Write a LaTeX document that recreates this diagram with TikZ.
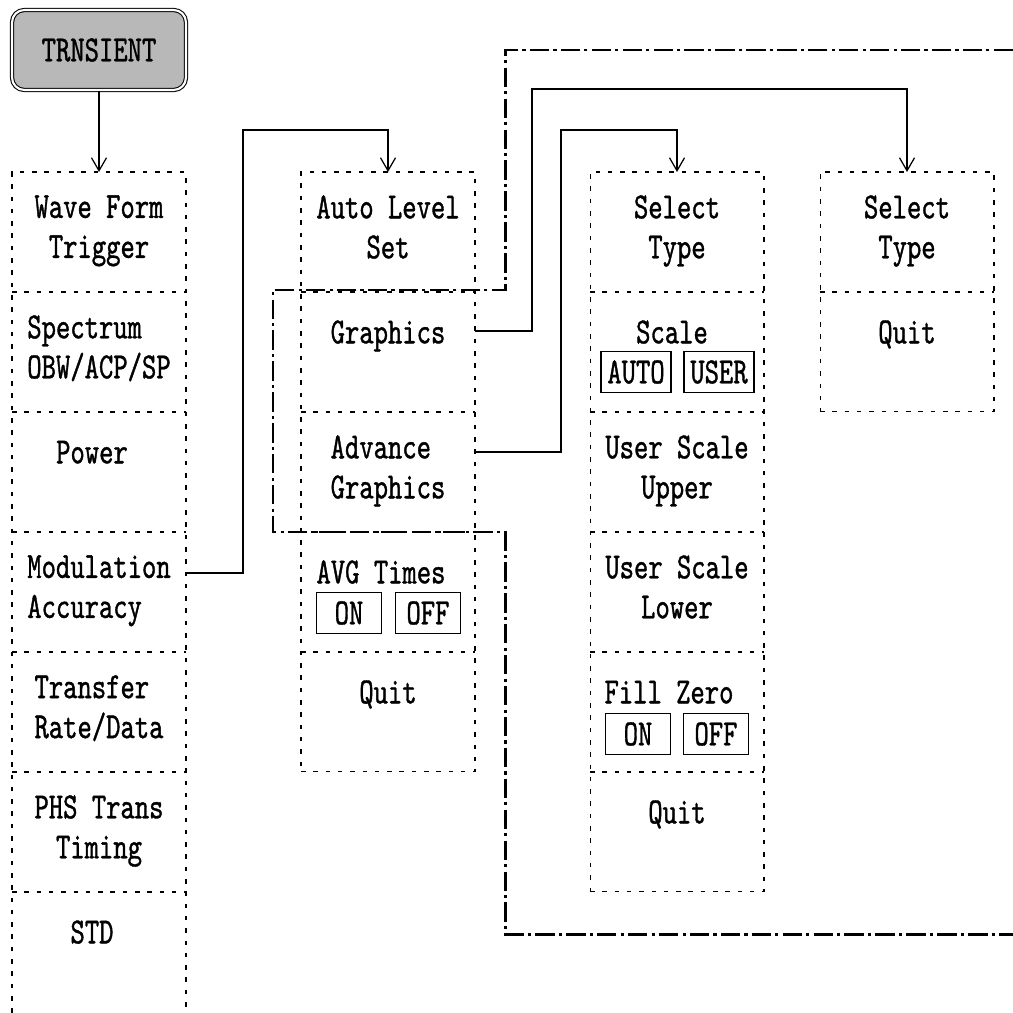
\documentclass[tikz,border=0pt]{standalone}
\usepackage{fontspec}
\usetikzlibrary{arrows.meta,calc}

\newfontfamily\menufont{lmmono10-regular.otf}[FakeStretch=0.74,FakeBold=1]

\tikzset{
  menuline/.style={line width=0.6pt, dash pattern=on 2.6pt off 4.4pt},
  menucol/.style={menuline, draw, anchor=north, minimum width=3.48cm, inner sep=0pt, outer sep=0pt},
  lbl/.style={anchor=north, align=center, inner sep=0pt, font=\menufont\fontsize{21}{22.76}\selectfont, execute at begin node=\strut},
  keybox/.style={draw, line width=0.7pt, minimum width=1.3cm, minimum height=0.82cm, inner sep=0pt, font=\menufont\fontsize{21}{22.76}\selectfont},
  softkey/.style={draw, rounded corners=7pt, double=white, double distance=1.2pt, line width=0.6pt, fill=black!28, minimum width=3.48cm, minimum height=1.6cm, font=\menufont\fontsize{21}{22}\selectfont},
  link/.style={line width=0.7pt, -{Straight Barb[length=0.26cm,width=0.3cm]}},
  zone/.style={line width=1.7pt, dash pattern=on 11pt off 2.4pt on 1.8pt off 2.4pt},
}

\begin{document}
\begin{tikzpicture}[x=0.02cm,y=-0.02cm]

\useasboundingbox (0,0) rectangle (1013,1013);

\node[softkey] (trans) at (99,50) {TRNSIENT};

% menu columns
\node[menucol, draw=none, minimum height=16.82cm] (colA) at (99,172) {};
\node[menucol, minimum height=12cm] (colB) at (388,172) {};
\node[menucol, minimum height=14.4cm] (colC) at (677,172) {};
\node[menucol, minimum height=4.8cm] (colD) at (907,172) {};

\draw[menuline] (colA.south west) -- (colA.north west) -- (colA.north east) -- (colA.south east);

\foreach \y in {292,412,532,652,772,892}
  \draw[menuline] (colA.west |- 0,\y) -- (colA.east |- 0,\y);
\foreach \y in {292,412,532,652}
  \draw[menuline] (colB.west |- 0,\y) -- (colB.east |- 0,\y);
\foreach \y in {292,412,532,652,772}
  \draw[menuline] (colC.west |- 0,\y) -- (colC.east |- 0,\y);
\draw[menuline] (colD.west |- 0,292) -- (colD.east |- 0,292);

\node[lbl] (wave) at (99,195) {Wave Form\\Trigger};
\node[lbl, align=left] (spec) at (99,315) {Spectrum\\OBW/ACP/SP};
\node[lbl] (power) at (92,435) {Power};
\node[lbl, align=left] (modacc) at (99,555) {Modulation\\Accuracy};
\node[lbl, align=left] (rate) at (99,675) {Transfer\\Rate/Data};
\node[lbl] (phs) at (99,795) {PHS Trans\\Timing};
\node[lbl] (std) at (92,915) {STD};

\node[lbl] (autolvl) at (388,195) {Auto Level\\Set};
\node[lbl] (graph) at (388,315) {Graphics};
\node[lbl, align=left] (advgraph) at (388,435) {Advance\\Graphics};
\node[lbl] (avg) at (381,555) {AVG Times};
\node[keybox] (avgon) at (349,613) {ON};
\node[keybox] (avgoff) at (428,613) {OFF};
\node[lbl] (quitB) at (388,675) {Quit};

\node[lbl] (selC) at (677,195) {Select\\Type};
\node[lbl] (scale) at (672,315) {Scale};
\node[keybox, minimum width=1.4cm] (auto) at (636,372) {AUTO};
\node[keybox, minimum width=1.4cm] (user) at (719,372) {USER};
\node[lbl] (upper) at (677,435) {User Scale\\Upper};
\node[lbl] (lower) at (677,555) {User Scale\\Lower};
\node[lbl] (fill) at (669,675) {Fill Zero};
\node[keybox] (zeroon) at (638,734) {ON};
\node[keybox] (zerooff) at (716,734) {OFF};
\node[lbl] (quitC) at (677,795) {Quit};

\node[lbl] (selD) at (907,195) {Select\\Type};
\node[lbl] (quitD) at (907,315) {Quit};

% graphics group
\draw[zone] (1013,50) -| (505,290) -| (273,532) -| (505,934) -- (1013,934);

\coordinate (modout) at (colA.east |- 0,573);
\coordinate (grout) at (colB.east |- 0,331);
\coordinate (advout) at (colB.east |- 0,452);

\draw[link] (trans) -- (colA.north);
\draw[link] (modout) -- ++(57,0) |- ($(colB.north)+(0,-42)$) -- (colB.north);
\draw[link] (grout) -- ++(57,0) |- ($(colD.north)+(0,-83)$) -- (colD.north);
\draw[link] (advout) -- ++(86,0) |- ($(colC.north)+(0,-42)$) -- (colC.north);

\end{tikzpicture}
\end{document}
